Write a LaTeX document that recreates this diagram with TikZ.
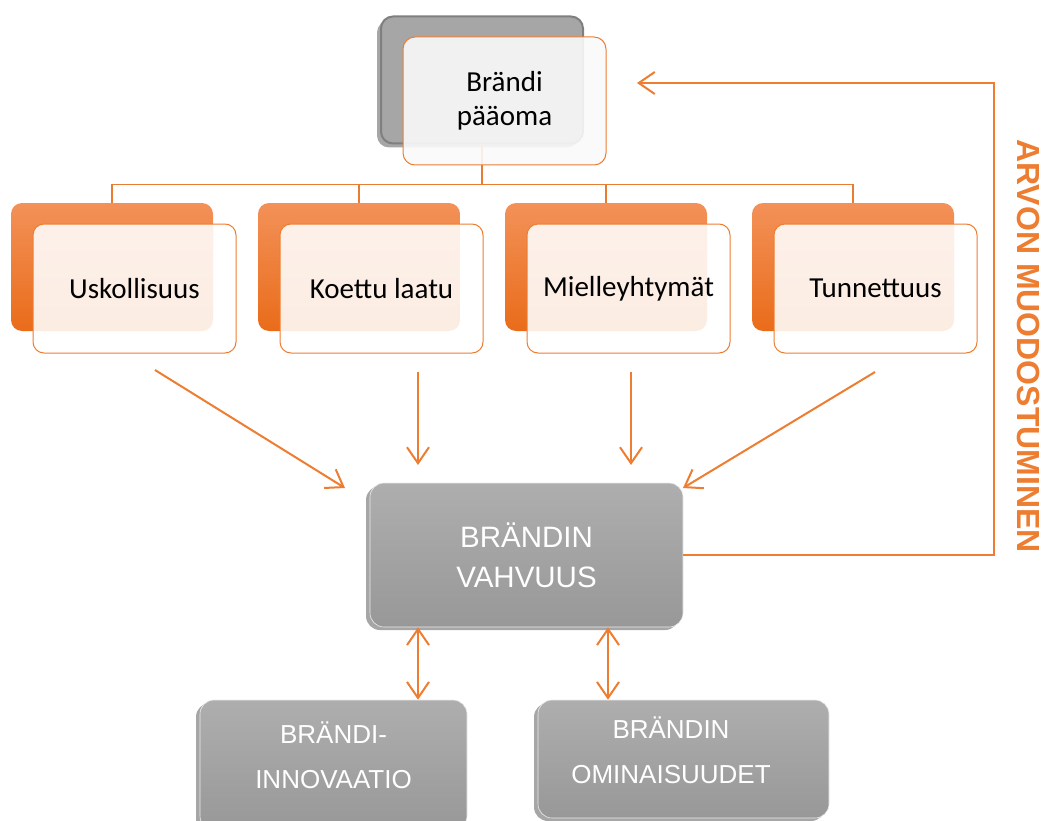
\documentclass[tikz,border=0pt]{standalone}
\usepackage{fontspec}
\setmainfont{Carlito}
\newfontfamily\arialf{Liberation Sans}
\usetikzlibrary{arrows.meta,shadows,calc}
\definecolor{org}{HTML}{ED7D31}
\definecolor{orgL}{HTML}{F39158}
\definecolor{orgD}{HTML}{E96C1A}
\definecolor{gback}{HTML}{A6A6A6}
\definecolor{gedge}{HTML}{7F7F7F}
\definecolor{gtop}{HTML}{AEAEAE}
\definecolor{gbot}{HTML}{989898}
\begin{document}
\begin{tikzpicture}[x=1pt,y=-1pt,
  obk/.style={rounded corners=11pt, minimum width=202pt, minimum height=128pt, inner sep=0pt, top color=orgL, bottom color=orgD, draw=none},
  ofr/.style={rounded corners=11pt, minimum width=203pt, minimum height=129pt, inner sep=0pt, draw=org, line width=1pt, fill=white, fill opacity=0.88, text opacity=1, font=\fontsize{29}{34}\selectfont},
  gbox/.style={rounded corners=14pt, inner sep=0pt, top color=gtop, bottom color=gbot, draw=white!85!gray, line width=0.6pt,
     drop shadow={shadow xshift=-4pt, shadow yshift=-3pt, opacity=0.35, fill=black}},
  wtxt/.style={text=white, align=center, font=\arialf\fontsize{26}{45}\selectfont},
  tree/.style={draw=org!90!brown, line width=1.3pt},
  conn/.style={draw=org, line width=2pt, -{Straight Barb[length=16pt,width=22pt,line width=2pt]}},
  dconn/.style={draw=org, line width=2pt, {Straight Barb[length=16pt,width=22pt,line width=2pt]}-{Straight Barb[length=16pt,width=22pt,line width=2pt]}}
]
\useasboundingbox (0,0) rectangle (1043,821);

% top box (back)
\node[rounded corners=12pt, minimum width=202pt, minimum height=127pt, inner sep=0pt, fill=gback, draw=gedge, line width=2pt,
   drop shadow={shadow xshift=-4pt, shadow yshift=-4pt, opacity=0.35, fill=black}] (pb) at (482,80) {};

% tree connectors
\draw[tree] (pb.south) -- ++(0,40) coordinate (tj);
\node[obk] (o1b) at (112,267) {};
\node[obk] (o2b) at (359,267) {};
\node[obk] (o3b) at (606,267) {};
\node[obk] (o4b) at (853,267) {};
\draw[tree] (tj) -| (o1b.north);
\draw[tree] (tj) -| (o2b.north);
\draw[tree] (tj) -| (o3b.north);
\draw[tree] (tj) -| (o4b.north);

% top box (front)
\node[rounded corners=12pt, minimum width=203pt, minimum height=128pt, inner sep=0pt, draw=org, line width=1pt, fill=white!96!gray, fill opacity=0.9, text opacity=1, align=center, font=\fontsize{29}{34}\selectfont] (pf) at (504.5,101) {Brändi\\pääoma};

% orange front boxes
\node[ofr] (o1f) at (134.5,288.5) {Uskollisuus};
\node[ofr] (o2f) at (381.5,288.5) {Koettu laatu};
\node[ofr] (o3f) at (628.5,288.5) {Mielleyhtymät};
\node[ofr] (o4f) at (875.5,288.5) {Tunnettuus};

% main box
\node[gbox, minimum width=313pt, minimum height=144pt] (mv) at (526.5,555) {};
\node[wtxt, font=\arialf\fontsize{29.5}{40}\selectfont] (mvt) at (526.5,555) {BRÄNDIN\\VAHVUUS};

% bottom boxes
\node[gbox, minimum width=267pt, minimum height=130pt] (bi) at (333.5,765) {};
\node[wtxt] (bit) at (333.5,755) {BRÄNDI-\\INNOVAATIO};
\node[gbox, minimum width=291pt, minimum height=118pt] (bo) at (683.5,759) {};
\node[wtxt] (bot) at (671,750) {BRÄNDIN\\OMINAISUUDET};

% arrows into main box
\coordinate (s1) at (155,370); \coordinate (e1) at (345,488);
\coordinate (s2) at (418,372); \coordinate (e2) at (418,465);
\coordinate (s3) at (631,372); \coordinate (e3) at (631,465);
\coordinate (s4) at (875,372); \coordinate (e4) at (683,488);
\draw[conn] (s1) -- (e1);
\draw[conn] (s2) -- (e2);
\draw[conn] (s3) -- (e3);
\draw[conn] (s4) -- (e4);

% double arrows
\draw[dconn] (bi.north -| 418,0) -- (mv.south -| 418,0);
\draw[dconn] (bo.north -| 608,0) -- (mv.south -| 608,0);

% feedback loop
\coordinate (fb) at (637,83);
\draw[conn] (mv.east) -- (994,555) |- (fb);

% vertical label
\node[rotate=-90, text=org, font=\arialf\bfseries\fontsize{32}{32}\selectfont, inner sep=0pt] (arv) at (1028,346) {ARVON MUODOSTUMINEN};
\end{tikzpicture}
\end{document}
